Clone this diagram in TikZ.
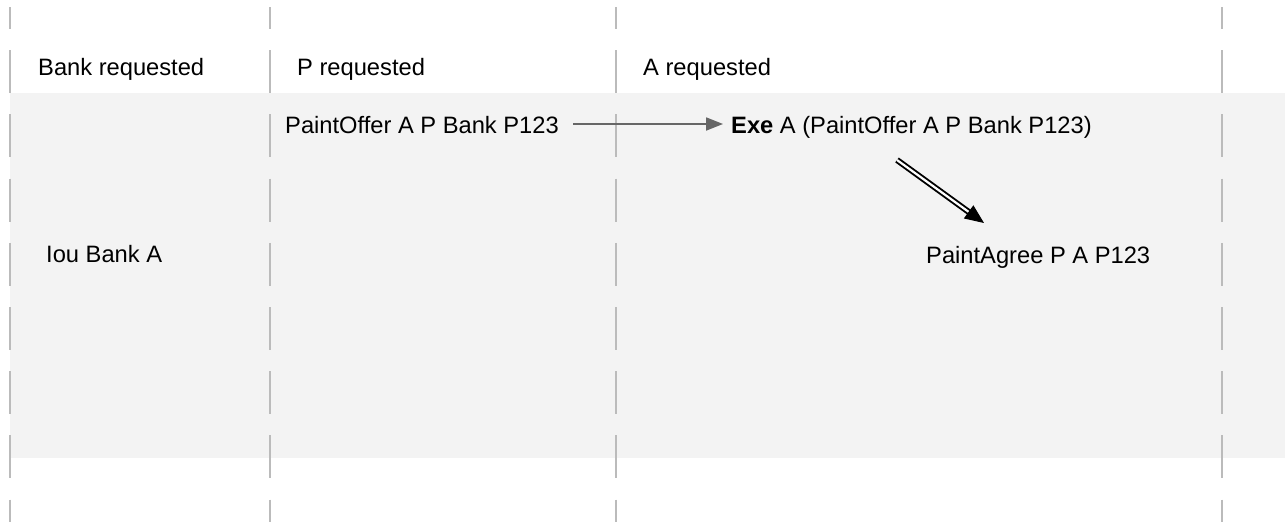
\documentclass[tikz,border=0pt]{standalone}
\usepackage{fontspec}
\setmainfont{Liberation Sans}
\usetikzlibrary{arrows.meta,calc}
\definecolor{lanegray}{HTML}{BBBBBB}
\definecolor{bandgray}{HTML}{F3F3F3}
\definecolor{arrowgray}{HTML}{666666}
\tikzset{
  lane/.style={draw=lanegray, line width=2pt, dash pattern=on 43pt off 21.2pt, dash phase=21pt},
  lbl/.style={anchor=base west, inner sep=0pt, text=black, font=\fontsize{23.7}{28}\selectfont},
  flow/.style={draw=arrowgray, line width=1.8pt, -{Triangle[length=17pt,width=13pt]}},
}
\begin{document}
\begin{tikzpicture}[x=1pt,y=-1pt]
\useasboundingbox (0,0) rectangle (1285,522);
\fill[white] (0,0) rectangle (1285,522);
\fill[bandgray] (10,93) rectangle (1285,458);
\foreach \x in {10,270,616,1222} \draw[lane] (\x,7) -- (\x,522);
\node[lbl] (hbank) at (38,75) {Bank requested};
\node[lbl] (hp) at (297,75) {P requested};
\node[lbl] (ha) at (643,75) {A requested};
\node[lbl] (offer) at (285,133) {PaintOffer A P Bank P123};
\node[lbl] (exe) at (731,133) {\textbf{Exe} A (PaintOffer A P Bank P123)};
\node[lbl] (agree) at (926,263) {PaintAgree P A P123};
\node[lbl] (iou) at (46,262) {Iou Bank A};
\coordinate (a1) at (573,124);
\coordinate (a2) at (723,124);
\draw[flow] (a1) -- (a2);
\coordinate (d1) at (897,160);
\coordinate (d2) at (984,223);
\draw[double=white, double distance=2.2pt, line width=1.9pt, shorten >=14pt] (d1) -- (d2);
\draw[line width=1pt, -{Triangle[length=19pt,width=16pt]}] ($(d2)!16pt!(d1)$) -- (d2);
\end{tikzpicture}
\end{document}
